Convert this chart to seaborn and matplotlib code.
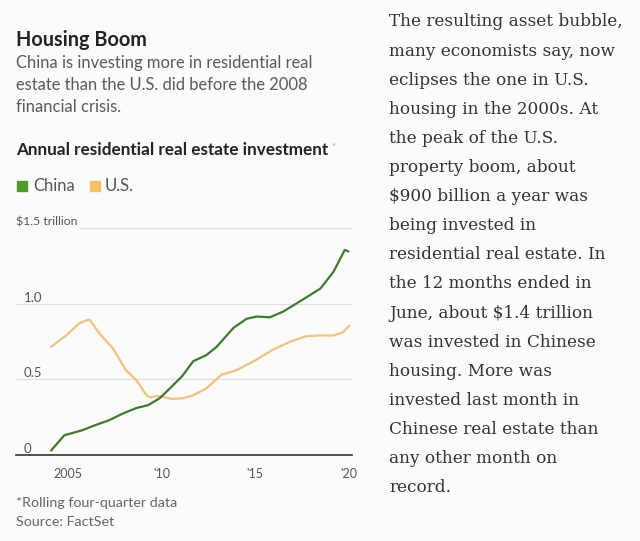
import numpy as np
import pandas as pd
import matplotlib
matplotlib.use('Agg')
import matplotlib.pyplot as plt
import matplotlib.transforms as mtransforms
from matplotlib.patches import Rectangle
import seaborn as sns

# --- data (trillions of dollars, rolling four-quarter) ---
china_years = [2004.1, 2004.8, 2005.8, 2006.3, 2007.2, 2007.95, 2008.65, 2009.3, 2009.9,
               2010.45, 2011.1, 2011.7, 2012.4, 2012.95, 2013.85, 2014.55, 2015.1, 2015.8,
               2016.5, 2017.2, 2017.95, 2018.5, 2019.2, 2019.8, 2020.0]
china_values = [0.03, 0.13, 0.165, 0.19, 0.23, 0.275, 0.31, 0.33, 0.375,
                0.44, 0.52, 0.62, 0.66, 0.715, 0.84, 0.90, 0.915, 0.91,
                0.947, 1.0, 1.057, 1.10, 1.21, 1.355, 1.345]

us_years = [2004.1, 2004.9, 2005.6, 2006.0, 2006.15, 2006.7, 2007.4, 2008.1, 2008.65,
            2009.2, 2009.4, 2009.75, 2010.25, 2010.55, 2011.15, 2011.7, 2012.4, 2013.2,
            2014.0, 2014.9, 2015.95, 2016.9, 2017.75, 2018.5, 2019.2, 2019.7, 2020.05]
us_values = [0.715, 0.79, 0.87, 0.89, 0.895, 0.80, 0.705, 0.56, 0.495,
             0.395, 0.38, 0.39, 0.38, 0.37, 0.375, 0.395, 0.44, 0.53,
             0.56, 0.617, 0.695, 0.75, 0.785, 0.79, 0.79, 0.81, 0.855]

y_ticks = [0, 0.5, 1.0, 1.5]
y_labels = ['0', '0.5', '1.0', '$1.5 trillion']
x_ticks = [2005, 2010, 2015, 2020]
x_labels = ['2005', "'10", "'15", "'20"]

body_lines = [
    'The resulting asset bubble,',
    'many economists say, now',
    'eclipses the one in U.S.',
    'housing in the 2000s. At',
    'the peak of the U.S.',
    'property boom, about',
    '$900 billion a year was',
    'being invested in',
    'residential real estate. In',
    'the 12 months ended in',
    'June, about $1.4 trillion',
    'was invested in Chinese',
    'housing. More was',
    'invested last month in',
    'Chinese real estate than',
    'any other month on',
    'record.',
]

china_color = '#3d7a2c'
us_color = '#f2c27c'
bg = '#fbfbfc'

sns.set_style('white')
plt.rcParams['font.family'] = ['Lato', 'DejaVu Sans']

W, H = 640, 541
fig = plt.figure(figsize=(W / 100, H / 100), dpi=100, facecolor=bg)

def fx(px):
    return px / W

def fy(py):
    return 1 - py / H

ax = fig.add_axes([fx(16), fy(455), fx(352) - fx(16), fy(228) - fy(455)])
ax.set_facecolor(bg)

china = pd.DataFrame({'year': china_years, 'value': china_values})
us = pd.DataFrame({'year': us_years, 'value': us_values})
sns.lineplot(data=us, x='year', y='value', color=us_color, lw=1.6, ax=ax, zorder=3)
sns.lineplot(data=china, x='year', y='value', color=china_color, lw=1.6, ax=ax, zorder=4)

ax.set_xlim(2002.22, 2020.19)
ax.set_ylim(0, 1.5)
ax.set_xlabel('')
ax.set_ylabel('')

# gridlines (the top one starts after its label)
for v in y_ticks[1:3]:
    ax.axhline(v, color='#dcdee2', lw=0.8, zorder=1)
ax.axhline(1.5, xmin=(79 - 16) / (352 - 16), color='#dcdee2', lw=0.8, zorder=1, clip_on=False)

# y labels sitting above gridlines
trans = mtransforms.blended_transform_factory(ax.transAxes, ax.transData)
for v, lab in zip(y_ticks, y_labels):
    if lab.startswith('$'):
        ax.text(0.0, v + 0.04, lab, transform=trans, ha='left', va='center',
                fontsize=8.8, color='#555555', clip_on=False)
    else:
        ax.text(0.022, v + 0.04, lab, transform=trans, ha='left', va='center',
                fontsize=9.5, color='#555555')
ax.set_yticks([])

for s in ['top', 'right', 'left']:
    ax.spines[s].set_visible(False)
ax.spines['bottom'].set_color('#333333')
ax.spines['bottom'].set_linewidth(1.2)

ax.set_xticks(x_ticks)
ax.set_xticklabels(x_labels, fontsize=9, color='#555555')
ax.set_xticks(list(range(2004, 2021)), minor=True)
ax.tick_params(axis='x', which='major', direction='out', length=5, width=1.1, color='#333333', pad=4)
ax.tick_params(axis='x', which='minor', direction='out', length=4, width=0.9, color='#333333')

# headline block
fig.text(fx(16), fy(40), 'Housing Boom', fontsize=14.3, fontweight='bold', color='#222222', va='center')
for i, line in enumerate(['China is investing more in residential real',
                          'estate than the U.S. did before the 2008',
                          'financial crisis.']):
    fig.text(fx(16), fy(63 + 22 * i), line, fontsize=11.9, color='#5a5a5a', va='center')
fig.text(fx(16), fy(150), 'Annual residential real estate investment', fontsize=12.3,
         fontweight='bold', color='#222222', va='center')
fig.text(fx(331), fy(147), '*', fontsize=7, color='#aaaaaa', va='center')

# legend
fig.patches.append(Rectangle((fx(17), fy(191)), fx(10), fy(181) - fy(191), transform=fig.transFigure,
                             color='#4e9a2e', figure=fig))
fig.text(fx(33), fy(186), 'China', fontsize=12, color='#555555', va='center')
fig.patches.append(Rectangle((fx(90), fy(191)), fx(10), fy(181) - fy(191), transform=fig.transFigure,
                             color='#f5c06a', figure=fig))
fig.text(fx(105), fy(186), 'U.S.', fontsize=12, color='#555555', va='center')

# footnotes
fig.text(fx(16), fy(503), '*Rolling four-quarter data', fontsize=10.3, color='#666666', va='center')
fig.text(fx(16), fy(522), 'Source: FactSet', fontsize=10.3, color='#666666', va='center')

# article text on the right
for i, line in enumerate(body_lines):
    fig.text(fx(389), fy(22 + 29.1 * i), line, fontsize=12.2, color='#333333',
             family='DejaVu Serif', va='center')

fig.savefig('out.png', dpi=100, facecolor=bg)
